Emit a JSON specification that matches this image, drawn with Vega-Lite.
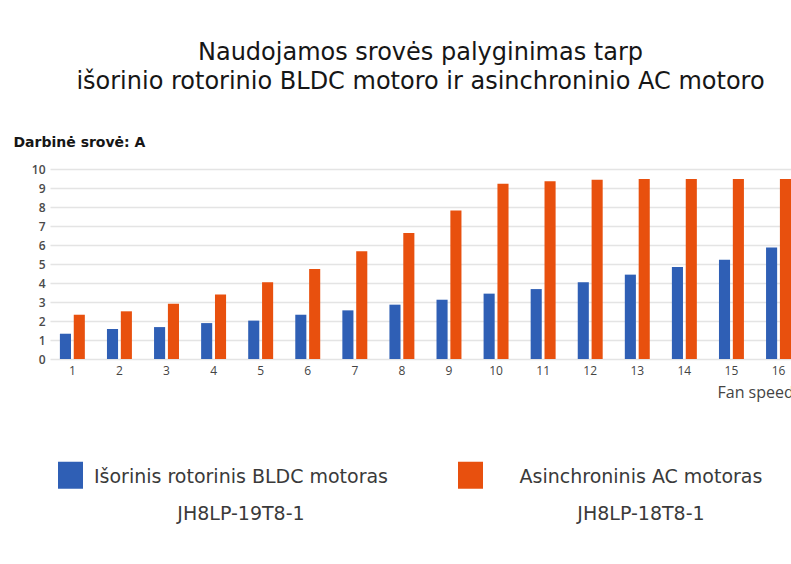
{
  "$schema": "https://vega.github.io/schema/vega-lite/v6.json",
  "width": 741,
  "height": 190,
  "autosize": {"type": "none"},
  "padding": {"left": 50, "top": 169, "right": 0, "bottom": 205},
  "background": "white",
  "title": {
    "text": ["Naudojamos srovės palyginimas tarp", "išorinio rotorinio BLDC motoro ir asinchroninio AC motoro"],
    "font": "DejaVu Sans",
    "fontSize": 24,
    "fontWeight": "normal",
    "lineHeight": 29,
    "color": "#161616",
    "anchor": "middle",
    "offset": 41
  },
  "data": {
    "values": [
      {"speed": 1, "motor": "Išorinis rotorinis BLDC motoras", "current": 1.33},
      {"speed": 2, "motor": "Išorinis rotorinis BLDC motoras", "current": 1.58},
      {"speed": 3, "motor": "Išorinis rotorinis BLDC motoras", "current": 1.68},
      {"speed": 4, "motor": "Išorinis rotorinis BLDC motoras", "current": 1.89},
      {"speed": 5, "motor": "Išorinis rotorinis BLDC motoras", "current": 2.02},
      {"speed": 6, "motor": "Išorinis rotorinis BLDC motoras", "current": 2.33},
      {"speed": 7, "motor": "Išorinis rotorinis BLDC motoras", "current": 2.56},
      {"speed": 8, "motor": "Išorinis rotorinis BLDC motoras", "current": 2.86},
      {"speed": 9, "motor": "Išorinis rotorinis BLDC motoras", "current": 3.12},
      {"speed": 10, "motor": "Išorinis rotorinis BLDC motoras", "current": 3.44},
      {"speed": 11, "motor": "Išorinis rotorinis BLDC motoras", "current": 3.68},
      {"speed": 12, "motor": "Išorinis rotorinis BLDC motoras", "current": 4.04},
      {"speed": 13, "motor": "Išorinis rotorinis BLDC motoras", "current": 4.44},
      {"speed": 14, "motor": "Išorinis rotorinis BLDC motoras", "current": 4.84},
      {"speed": 15, "motor": "Išorinis rotorinis BLDC motoras", "current": 5.23},
      {"speed": 16, "motor": "Išorinis rotorinis BLDC motoras", "current": 5.87},
      {"speed": 1, "motor": "Asinchroninis AC motoras", "current": 2.33},
      {"speed": 2, "motor": "Asinchroninis AC motoras", "current": 2.51},
      {"speed": 3, "motor": "Asinchroninis AC motoras", "current": 2.91},
      {"speed": 4, "motor": "Asinchroninis AC motoras", "current": 3.39},
      {"speed": 5, "motor": "Asinchroninis AC motoras", "current": 4.04},
      {"speed": 6, "motor": "Asinchroninis AC motoras", "current": 4.74},
      {"speed": 7, "motor": "Asinchroninis AC motoras", "current": 5.67},
      {"speed": 8, "motor": "Asinchroninis AC motoras", "current": 6.63},
      {"speed": 9, "motor": "Asinchroninis AC motoras", "current": 7.82},
      {"speed": 10, "motor": "Asinchroninis AC motoras", "current": 9.23},
      {"speed": 11, "motor": "Asinchroninis AC motoras", "current": 9.35},
      {"speed": 12, "motor": "Asinchroninis AC motoras", "current": 9.44},
      {"speed": 13, "motor": "Asinchroninis AC motoras", "current": 9.47},
      {"speed": 14, "motor": "Asinchroninis AC motoras", "current": 9.47},
      {"speed": 15, "motor": "Asinchroninis AC motoras", "current": 9.47},
      {"speed": 16, "motor": "Asinchroninis AC motoras", "current": 9.47}
    ]
  },
  "mark": {"type": "bar"},
  "encoding": {
    "x": {
      "field": "speed",
      "type": "ordinal",
      "scale": {"paddingInner": 0.47, "paddingOuter": 0.105, "align": 1},
      "axis": {
        "title": "Fan speed",
        "titleX": 667,
        "titleY": 33,
        "titleAnchor": "start",
        "titleAlign": "left",
        "titleBaseline": "middle",
        "titleFont": "Open Sans",
        "titleFontSize": 16,
        "titleFontWeight": "normal",
        "titleColor": "#444444",
        "labelAngle": 0,
        "labelFont": "Open Sans",
        "labelFontSize": 12,
        "labelColor": "#444444",
        "labelPadding": 6,
        "ticks": false,
        "tickSize": 0,
        "domain": false,
        "grid": false
      }
    },
    "xOffset": {
      "field": "motor",
      "type": "nominal",
      "sort": ["Išorinis rotorinis BLDC motoras", "Asinchroninis AC motoras"],
      "scale": {"paddingInner": 0.2}
    },
    "y": {
      "field": "current",
      "type": "quantitative",
      "scale": {"domain": [0, 10], "nice": false},
      "axis": {
        "values": [0, 1, 2, 3, 4, 5, 6, 7, 8, 9, 10],
        "title": "Darbinė srovė: A",
        "titleAngle": 0,
        "titleX": -37,
        "titleY": -27,
        "titleAlign": "left",
        "titleAnchor": "start",
        "titleBaseline": "middle",
        "titleFont": "DejaVu Sans",
        "titleFontSize": 14,
        "titleFontWeight": "bold",
        "titleColor": "#161616",
        "labelFont": "Open Sans",
        "labelFontSize": 12,
        "labelFontWeight": 600,
        "labelColor": "#4a4a4a",
        "labelPadding": 5,
        "ticks": false,
        "tickSize": 0,
        "domain": false,
        "grid": true,
        "gridColor": "#e4e4e4",
        "gridWidth": 1.5
      }
    },
    "color": {
      "field": "motor",
      "type": "nominal",
      "scale": {
        "domain": ["Išorinis rotorinis BLDC motoras", "Asinchroninis AC motoras"],
        "range": ["#2f5fb5", "#e8500e"]
      },
      "legend": {
        "orient": "none",
        "legendX": 7,
        "legendY": 300,
        "direction": "horizontal",
        "columns": 2,
        "columnPadding": 68,
        "title": null,
        "padding": 0,
        "symbolType": "M-0.926,-1.556H0.926V0.444H-0.926Z",
        "symbolSize": 729,
        "symbolStrokeWidth": 0,
        "symbolOpacity": 1,
        "labelFont": "DejaVu Sans",
        "labelFontSize": 19,
        "labelColor": "#3a3a3a",
        "labelOffset": 157,
        "labelLimit": 0,
        "labelAlign": "center",
        "labelBaseline": "alphabetic",
        "labelExpr": "datum.value == 'Išorinis rotorinis BLDC motoras' ? ['Išorinis rotorinis BLDC motoras', 'JH8LP-19T8-1'] : ['Asinchroninis AC motoras', 'JH8LP-18T8-1']"
      }
    }
  },
  "config": {
    "view": {"stroke": null},
    "style": {"guide-label": {"lineHeight": 37}}
  }
}
